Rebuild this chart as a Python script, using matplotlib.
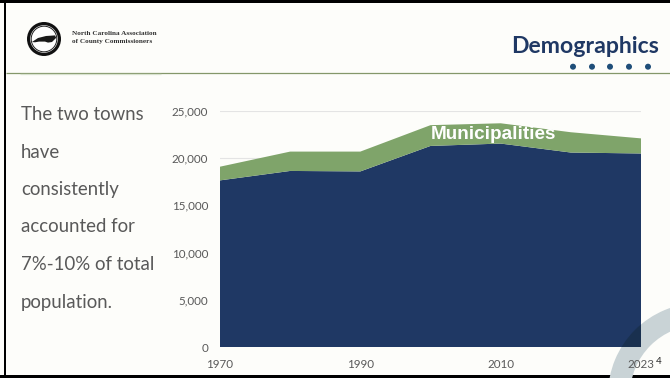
import matplotlib
matplotlib.use("Agg")
import matplotlib.pyplot as plt
from matplotlib.patches import Circle, Wedge, Polygon, Rectangle

# Population by decade: unincorporated county vs. the two towns
years = ["1970", "1980", "1990", "2000", "2010", "2020", "2023"]
unincorporated = [17650, 18650, 18600, 21300, 21550, 20600, 20500]
municipalities = [1450, 2050, 2100, 2200, 2150, 2150, 1600]
y_ticks = [0, 5000, 10000, 15000, 20000, 25000]
x_labeled = ["1970", "1990", "2010", "2023"]

side_text = ["The two towns", "have", "consistently", "accounted for",
             "7%-10% of total", "population."]

NAVY = "#1f3864"
GREEN = "#7fa46a"
GREY_TXT = "#595959"
W, H = 670, 378

fig = plt.figure(figsize=(W / 100, H / 100), dpi=100)
fig.patch.set_facecolor("#fdfdfa")

# full-figure layer in pixel units for slide decorations
bg = fig.add_axes([0, 0, 1, 1])
bg.set_xlim(0, W)
bg.set_ylim(H, 0)
bg.axis("off")

renderer = fig.canvas.get_renderer()


def fit_width(txt, target_px):
    w = txt.get_window_extent(renderer=renderer).width
    txt.set_fontsize(txt.get_fontsize() * target_px / w)


# slide frame
bg.add_patch(Rectangle((0, 0), W, 3, color="black", lw=0))
bg.add_patch(Rectangle((3.5, 0), 2.5, H, color="black", lw=0))
bg.add_patch(Rectangle((0, 374.5), W, 4, color="black", lw=0))

# header rule and dots
bg.plot([6, W], [72.7, 72.7], color="#84976a", lw=0.9, solid_capstyle="butt")
bg.plot([20, 161], [74.2, 74.2], color="#d8e2cf", lw=0.9, solid_capstyle="butt")
for dx in [573, 592, 610, 629, 648]:
    bg.add_patch(Circle((dx, 66.7), 3.0, color="#1f4e79", lw=0))

title = bg.text(659, 52.7, "Demographics", ha="right", va="baseline",
                fontsize=13, fontweight="bold", color=NAVY, family="Lato")
fit_width(title, 148)

# association seal
cx, cy = 44, 39
bg.add_patch(Circle((cx, cy), 17, color="#111111", lw=0))
bg.add_patch(Circle((cx, cy), 13.8, color="white", lw=0))
bg.add_patch(Circle((cx, cy), 12.8, fill=False, ec="#222222", lw=0.7))
state = [(-12, 3), (-6, -1), (2, -3), (11, -3.6), (12.2, -1.2), (10, 1),
         (8, 3), (4, 3.6), (1, 2.6), (-5, 2.6), (-9, 3.3)]
bg.add_patch(Polygon([(cx + px, cy + py) for px, py in state],
                     closed=True, color="#1a1a1a", lw=0))
l1 = bg.text(72, 33.5, "North Carolina Association", ha="left", va="center",
             fontsize=5, fontweight="bold", color="#333333",
             family="Liberation Serif")
fit_width(l1, 86)
l2 = bg.text(72, 42, "of County Commissioners", ha="left", va="center",
             fontsize=l1.get_fontsize(), fontweight="bold", color="#333333",
             family="Liberation Serif")

# side commentary
baselines = [120, 157.5, 195, 232.5, 270, 308]
side = []
for s, yb in zip(side_text, baselines):
    side.append(bg.text(21, yb, s, ha="left", va="baseline", fontsize=13,
                        color=GREY_TXT, family="Lato"))
fit_width(side[4], 133)
for t in side:
    t.set_fontsize(side[4].get_fontsize())

# decorative ring, lower right
ring_c = (700, 395)
bg.add_patch(Wedge(ring_c, 92, 0, 360, width=22, color="#c9d3d6", lw=0))

bg.text(659, 361, "4", ha="center", va="center", fontsize=7,
        color="#222222", family="Lato")

# stacked area chart
ax = fig.add_axes([220 / W, 1 - 347 / H, 421 / W, 236 / H])
ax.set_facecolor("none")
xs = list(range(len(years)))
ax.stackplot(xs, unincorporated, municipalities, colors=[NAVY, GREEN],
             lw=0, zorder=2)
ax.set_xlim(0, len(years) - 1)
ax.set_ylim(0, 25000)
ax.set_yticks(y_ticks)
ax.set_yticklabels([f"{v:,}" for v in y_ticks])
ax.set_xticks([years.index(y) for y in x_labeled])
ax.set_xticklabels(x_labeled)
ax.tick_params(length=0, colors=GREY_TXT, labelsize=8.4)
ax.tick_params(axis="y", pad=8.6)
ax.tick_params(axis="x", pad=9)
for lab in ax.get_xticklabels() + ax.get_yticklabels():
    lab.set_family("Lato")
ax.grid(axis="y", color="#e4e4e4", lw=0.8)
ax.set_axisbelow(True)
for sp in ax.spines.values():
    sp.set_visible(False)

# ring passing behind the chart shows as a darker tint
ax.add_patch(Wedge(ring_c, 92, 0, 360, width=22, color="#19304f", lw=0,
                   transform=bg.transData, zorder=3, clip_on=True))

mlab = ax.text(3.89, 22560, "Municipalities", ha="center", va="center",
               fontsize=10.5, fontweight="bold", color="white",
               family="Liberation Sans", zorder=4)
fit_width(mlab, 125)

fig.savefig("out.png", dpi=100, facecolor=fig.get_facecolor())
